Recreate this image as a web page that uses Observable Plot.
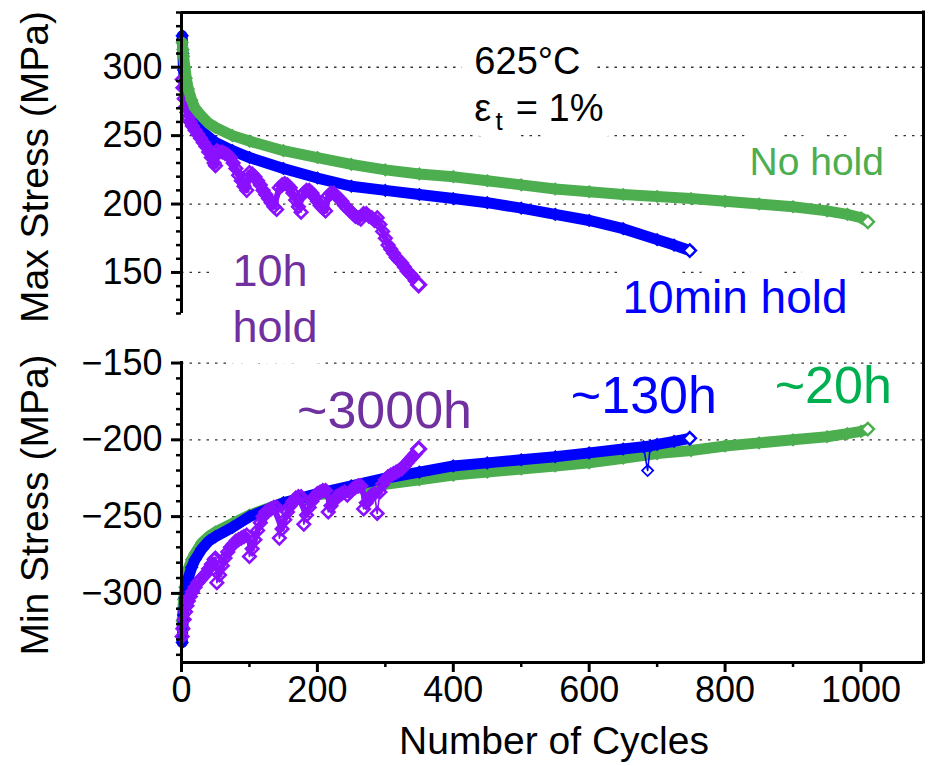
<!DOCTYPE html>
<html><head><meta charset="utf-8">
<script src="https://cdn.jsdelivr.net/npm/d3@7"></script>
<script src="https://cdn.jsdelivr.net/npm/@observablehq/plot@0.6"></script>
<style>
html,body{margin:0;padding:0;background:#fff;}
#chart{position:relative;width:933px;height:766px;overflow:hidden;font-family:"Liberation Sans",Arial,Helvetica,sans-serif;color:#000;}
.panel{position:absolute;left:0;}
</style></head><body><div id="chart"></div>
<script>
// ---------- data ----------
const xDomain = [0, 1092];
const maxDomain = [120, 340];
const minDomain = [-345, -149];
const xTicks = [0, 200, 400, 600, 800, 1000];
const xMinor = [100, 300, 500, 700, 900];
const maxTicks = [150, 200, 250, 300];
const maxMinor = [120, 130, 140, 160, 170, 180, 190, 210, 220, 230, 240, 260, 270, 280, 290, 310, 320, 330, 340];
const minTicks = [-300, -250, -200, -150];
const minMinor = [-340, -330, -320, -310, -290, -280, -270, -260, -240, -230, -220, -210, -190, -180, -170, -160];

// No hold (green)
const greenCycles = [1,2,3,5,7,10,15,20,30,40,50,75,100,150,200,250,300,350,400,450,500,550,600,650,700,750,800,850,900,950,980,1000,1010];
const greenMax = [318,313,308,300,292,284,276,270,264,259,256,250,246,239,234,229,225,222,220,217,214,211,209,207,205.5,204,202,200,198,195,192.5,190,187];
const greenMin = [-318,-310,-304,-296,-290,-284,-278,-274,-267,-263,-260,-254.5,-249,-241,-236,-232,-229,-226,-223,-221,-219,-217,-215,-212,-209,-207,-204,-202,-200,-198,-196,-194.5,-193];

// 10 min hold (blue)
const blueCyclesMax = [1,2,3,5,7,10,15,20,30,40,50,75,100,150,200,250,300,350,400,450,500,550,600,650,700,725,748];
const blueMax = [323,310,298,285,278,272,265,260,253,249,245,239,234,226,219,213,210,207,204,201,197,192.5,188,182,174,170,166];
const blueCyclesMin = [1,2,3,5,7,10,15,20,30,40,50,75,100,150,200,250,300,350,400,450,500,550,600,650,680,686,690,700,725,748];
const blueMin = [-332,-322,-314,-303,-296,-290,-283,-278,-271,-266,-263,-257,-250,-241,-235,-230,-225,-221,-217,-215,-213,-211,-208.5,-206,-204.5,-220,-204,-203,-201,-199];

// 10 h hold (purple)
const purpleCycles = [1,2,4,6,8,10,13,16,20,24,28,32,36,40,44,48,50,
  52,56,60,64,68,72,76,80,84,88,92,96,
  100,104,108,112,116,120,124,128,132,136,140,
  144,148,152,156,160,164,168,172,176,
  180,184,188,192,196,200,204,208,212,
  216,220,224,228,232,236,240,244,248,252,256,260,264,
  268,272,276,280,284,
  288,292,296,300,304,308,312,316,320,324,328,332,336,340,344,349];
const purpleMax = [291,285,277,271,267,263,260,257,254,251,248,245,242,238,234,230,228,
  239,238,238,237,236,234,230,226,221,217,213,210,
  223,222,220,217,214,210,207,204,201,198,196,
  212,214,215,214,212,208,203,198,194,
  208,210,210,208,205,202,199,197,195,
  206,208,208,206,204,202,199,197,195,193,191,190,189,
  193,193,191,190,188,
  190,185,180,175,170,167,164,161,159,157,154,151,149,147,144,141];
const purpleMin = [-328,-323,-317,-312,-308,-305,-302,-299,-296,-293,-291,-289,-287,-284,-281,-278,-277,
  -293,-288,-282,-277,-273,-270,-268,-266,-265,-264,-263,-262,
  -276,-271,-265,-259,-254,-250,-247,-246,-245,-244,-244,
  -264,-258,-252,-247,-243,-240,-238,-237,-237,
  -255,-249,-244,-240,-237,-235,-234,-233,-233,
  -247,-243,-240,-237,-236,-235,-234,-236,-234,-232,-231,-230,-230,
  -245,-241,-238,-236,-235,
  -248,-234,-229,-226,-224,-223,-222,-221,-220,-219,-217,-215,-213,-211,-209,-206];

// annotations (position in data units)
const topNotes = [
  {key: "temp", text: "625°C", cycle: 431, stress: 303.8},
  {key: "eps", text: "ε", cycle: 431, stress: 269.7},
  {key: "sub", text: "t", cycle: 462, stress: 260.5},
  {key: "eq", text: "= 1%", cycle: 492, stress: 269.7},
  {key: "nohold", text: "No hold", cycle: 836, stress: 230.2},
  {key: "min10", text: "10min hold", cycle: 649, stress: 130.9},
  {key: "h10a", text: "10h", cycle: 75, stress: 150.3},
  {key: "h10b", text: "hold", cycle: 75, stress: 109.5}
];
const bottomNotes = [
  {key: "t3000", text: "~3000h", cycle: 170, stress: -181.2},
  {key: "t130", text: "~130h", cycle: 573, stress: -171.4},
  {key: "t20", text: "~20h", cycle: 873, stress: -164.9}
];

// ---------- styles ----------
const FONT = '"Liberation Sans", Arial, Helvetica, sans-serif';
const GREEN = "#4cae4f", BLUE = "#0000ff", PURPLE = "#8a10ff";
const PURPLE_TXT = "#7030a0", GREEN_TXT2 = "#00b050";
const noteStyle = {
  temp: {size: 38, color: "#000", halo: 30},
  eps: {size: 38, color: "#000", halo: 30},
  sub: {size: 26, color: "#000", halo: 30},
  eq: {size: 38, color: "#000", halo: 36},
  nohold: {size: 39, color: GREEN, halo: 30},
  min10: {size: 46, color: BLUE, halo: 30},
  h10a: {size: 45, color: PURPLE_TXT, halo: 50},
  h10b: {size: 45, color: PURPLE_TXT, halo: 44},
  t3000: {size: 52, color: PURPLE_TXT, halo: 0},
  t130: {size: 52, color: BLUE, halo: 0},
  t20: {size: 52, color: GREEN_TXT2, halo: 0}
};

const rows = (cycles, vals) => cycles.map((c, i) => ({cycle: c, stress: vals[i]}));
// a point far away from both neighbours (single-cycle glitch) is kept out of the thick band
const isGlitch = (vals, i) => i > 0 && i < vals.length - 1 &&
  Math.abs(vals[i] - (vals[i - 1] + vals[i + 1]) / 2) > 8;

function seriesMarks(cycles, vals, color, o) {
  const data = rows(cycles, vals);
  const band = data.filter((d, i) => !isGlitch(vals, i));
  return [
    Plot.line(data, {x: "cycle", y: "stress", stroke: color, strokeWidth: 1.6}),
    Plot.line(band, {x: "cycle", y: "stress", stroke: color, strokeWidth: o.lineW, strokeLinejoin: "round", strokeLinecap: "round"}),
    Plot.dot(data, {x: "cycle", y: "stress", symbol: "diamond2", r: o.r, stroke: color, strokeWidth: o.sw, fill: "none"}),
    Plot.dot(data, Plot.selectLast({x: "cycle", y: "stress", symbol: "diamond2", r: o.r + 0.6, stroke: color, strokeWidth: o.sw + 0.6, fill: "white"}))
  ];
}
function noteMarks(notes) {
  const halos = notes.filter(n => noteStyle[n.key].halo).map(n => {
    const s = noteStyle[n.key];
    return Plot.text([n], {x: "cycle", y: "stress", text: "text", fontSize: s.size, fill: "white", textAnchor: "start", lineAnchor: "middle",
      stroke: "white", strokeWidth: s.halo, strokeLinejoin: "round"});
  });
  const texts = notes.map(n => {
    const s = noteStyle[n.key];
    return Plot.text([n], {x: "cycle", y: "stress", text: "text", fontSize: s.size, fill: s.color, textAnchor: "start", lineAnchor: "middle"});
  });
  return [...halos, ...texts];
}
const gridStyle = {stroke: "#333", strokeOpacity: 1, strokeWidth: 1.3, strokeDasharray: "2.5,6"};
const fmt = d3.format("d");
const bandOpt = {lineW: 11, r: 5, sw: 1.8};
const purpleOpt = {lineW: 6, r: 5.6, sw: 2.6};

// ---------- bottom panel (min stress) ----------
const bottomPlot = Plot.plot({
  width: 933, height: 436,
  marginLeft: 181, marginRight: 10, marginTop: 31, marginBottom: 104,
  style: {fontFamily: FONT, background: "transparent", overflow: "visible", color: "#000"},
  x: {domain: xDomain, axis: null},
  y: {domain: minDomain, axis: null},
  marks: [
    Plot.gridY(minTicks, gridStyle),
    ...noteMarks(bottomNotes),
    ...seriesMarks(greenCycles, greenMin, GREEN, bandOpt),
    ...seriesMarks(blueCyclesMin, blueMin, BLUE, bandOpt),
    ...seriesMarks(purpleCycles, purpleMin, PURPLE, purpleOpt),
    Plot.ruleX([xDomain[0]], {strokeWidth: 3}),
    Plot.ruleY([minDomain[0]], {strokeWidth: 3}),
    Plot.axisY(minTicks, {tickSize: 10, tickPadding: 9, fontSize: 36, strokeWidth: 3, label: null, tickFormat: fmt}),
    Plot.axisY(minMinor, {tickSize: 5, strokeWidth: 2.5, label: null, tickFormat: () => ""}),
    Plot.axisX(xTicks, {tickSize: 10, tickPadding: 4, fontSize: 36, strokeWidth: 3, label: null, tickFormat: fmt}),
    Plot.axisX(xMinor, {tickSize: 5, strokeWidth: 2.5, label: null, tickFormat: () => ""})
  ]
});

// ---------- top panel (max stress) ----------
const topPlot = Plot.plot({
  width: 933, height: 320,
  marginLeft: 181, marginRight: 10, marginTop: 12, marginBottom: 7,
  style: {fontFamily: FONT, background: "transparent", overflow: "visible", color: "#000"},
  x: {domain: xDomain, axis: null},
  y: {domain: maxDomain, axis: null},
  marks: [
    Plot.gridY(maxTicks, gridStyle),
    ...noteMarks(topNotes),
    ...seriesMarks(blueCyclesMax, blueMax, BLUE, bandOpt),
    ...seriesMarks(purpleCycles, purpleMax, PURPLE, purpleOpt),
    ...seriesMarks(greenCycles, greenMax, GREEN, bandOpt),
    Plot.ruleX([xDomain[0]], {strokeWidth: 3}),
    Plot.ruleY([maxDomain[1]], {strokeWidth: 3}),
    Plot.axisY(maxTicks, {tickSize: 10, tickPadding: 9, fontSize: 36, strokeWidth: 3, label: null, tickFormat: fmt}),
    Plot.axisY(maxMinor, {tickSize: 5, strokeWidth: 2.5, label: null, tickFormat: () => ""})
  ]
});

const chart = document.getElementById("chart");
const bDiv = document.createElement("div"); bDiv.className = "panel"; bDiv.style.top = "330px"; bDiv.appendChild(bottomPlot);
const tDiv = document.createElement("div"); tDiv.className = "panel"; tDiv.style.top = "0px"; tDiv.appendChild(topPlot);
chart.appendChild(bDiv);
chart.appendChild(tDiv);

// ---------- overlay: right border + axis titles ----------
const ov = d3.select(chart).append("svg")
  .attr("width", 933).attr("height", 766)
  .style("position", "absolute").style("left", "0px").style("top", "0px")
  .style("font-family", FONT);
ov.append("line").attr("x1", 923.5).attr("x2", 923.5).attr("y1", 10.5).attr("y2", 663.5)
  .attr("stroke", "#000").attr("stroke-width", 3);
ov.append("text").attr("transform", "translate(48,167) rotate(-90)").attr("text-anchor", "middle")
  .attr("font-size", 39).text("Max Stress (MPa)");
ov.append("text").attr("transform", "translate(48,505) rotate(-90)").attr("text-anchor", "middle")
  .attr("font-size", 39).text("Min Stress (MPa)");
ov.append("text").attr("x", 554).attr("y", 754).attr("text-anchor", "middle")
  .attr("font-size", 39).text("Number of Cycles");
</script>
</body></html>
